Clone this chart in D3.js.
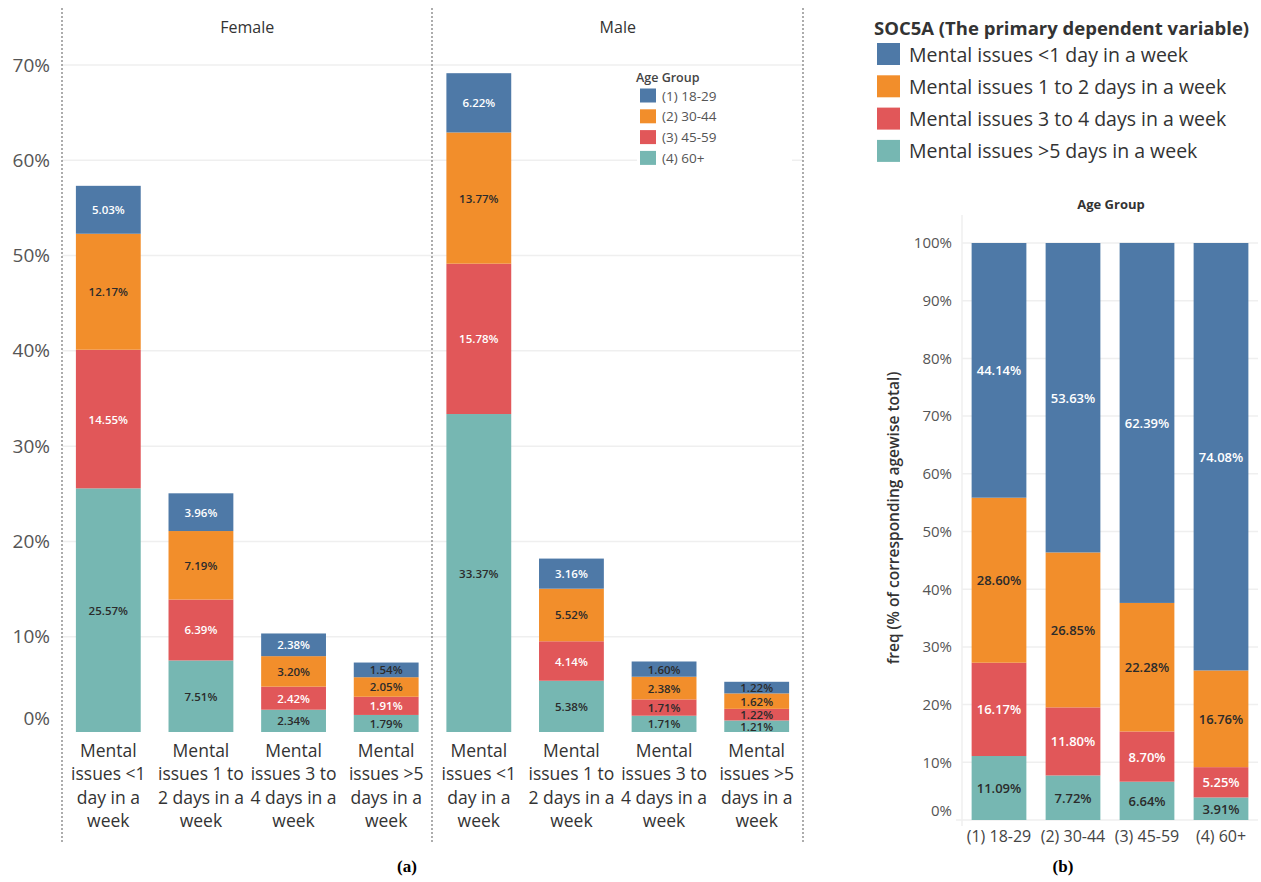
<!DOCTYPE html>
<html>
<head>
<meta charset="utf-8">
<script src="https://cdn.jsdelivr.net/npm/d3@7"></script>
<style>
  html, body { margin: 0; padding: 0; background: #fff; }
  svg { display: block; font-family: "Open Sans", Lato, sans-serif; }
</style>
</head>
<body>
<svg id="chart" width="1261" height="882"></svg>
<script>
// ---- data -------------------------------------------------------------
const categories = [
  "Mental issues <1 day in a week",
  "Mental issues 1 to 2 days in a week",
  "Mental issues 3 to 4 days in a week",
  "Mental issues >5 days in a week"
];
const categoryLines = [
  ["Mental", "issues <1", "day in a", "week"],
  ["Mental", "issues 1 to", "2 days in a", "week"],
  ["Mental", "issues 3 to", "4 days in a", "week"],
  ["Mental", "issues >5", "days in a", "week"]
];
const ageGroups = ["(1) 18-29", "(2) 30-44", "(3) 45-59", "(4) 60+"];
const genders = ["Female", "Male"];

// share of all respondents, by age group, per category
const female18_29 = [5.03, 3.96, 2.38, 1.54];
const female30_44 = [12.17, 7.19, 3.20, 2.05];
const female45_59 = [14.55, 6.39, 2.42, 1.91];
const female60p   = [25.57, 7.51, 2.34, 1.79];
const male18_29 = [6.22, 3.16, 1.60, 1.22];
const male30_44 = [13.77, 5.52, 2.38, 1.62];
const male45_59 = [15.78, 4.14, 1.71, 1.22];
const male60p   = [33.37, 5.38, 1.71, 1.21];

// share within each age group, per category
const lessThan1Day = [44.14, 53.63, 62.39, 74.08];
const oneToTwoDays = [28.60, 26.85, 22.28, 16.76];
const threeToFour  = [16.17, 11.80, 8.70, 5.25];
const moreThan5    = [11.09, 7.72, 6.64, 3.91];

const leftTicks = [0, 10, 20, 30, 40, 50, 60, 70];
const rightTicks = [0, 10, 20, 30, 40, 50, 60, 70, 80, 90, 100];

const palette = ["#4E79A7", "#F28E2B", "#E15759", "#76B7B2"];
const lightText = [true, false, true, false];

const svg = d3.select("#chart");
const gridColor = "#efefef";
const axisText = "#555";
const darkLabel = "#2b2b2b";

// ---- panel (a): stacked bars by gender -------------------------------
const panelData = {
  Female: [female18_29, female30_44, female45_59, female60p],
  Male: [male18_29, male30_44, male45_59, male60p]
};

const genderX = d3.scaleBand().domain(genders).range([62, 803]);
const yA = d3.scaleLinear().domain([0, 70]).range([732, 65]);

const a = svg.append("g");

// gridlines
a.append("g").selectAll("line")
  .data(leftTicks.filter(t => t > 0))
  .join("line")
  .attr("x1", 62).attr("x2", 803)
  .attr("y1", d => yA(d)).attr("y2", d => yA(d))
  .attr("stroke", gridColor).attr("stroke-width", 1.5);

// y axis labels
const yAxisA = a.append("g")
  .attr("transform", "translate(50,0)")
  .call(d3.axisLeft(yA).tickValues(leftTicks).tickSize(0).tickPadding(0)
    .tickFormat(d => d + "%"));
yAxisA.select(".domain").remove();
yAxisA.selectAll("text")
  .attr("fill", axisText)
  .style("font-size", "19px")
  .style("font-family", "'Open Sans', sans-serif")
  .attr("dy", d => d === 0 ? "-0.4em" : "0.32em");

genders.forEach(g => {
  const gx = genderX(g);
  const x = d3.scaleBand().domain(categories)
    .range([gx, gx + genderX.bandwidth()]).paddingInner(0.3).paddingOuter(0.15);

  const rows = categories.map((c, ci) => {
    const r = { category: c };
    ageGroups.forEach((ag, ai) => { r[ag] = panelData[g][ai][ci]; });
    return r;
  });
  // oldest group at the bottom of each stack
  const stack = d3.stack().keys(ageGroups.slice().reverse())(rows);

  const pg = a.append("g");
  pg.append("text")
    .attr("x", gx + genderX.bandwidth() / 2).attr("y", 27)
    .attr("text-anchor", "middle").attr("dominant-baseline", "central")
    .attr("fill", "#333").style("font-size", "16px")
    .text(g);

  stack.forEach(layer => {
    const ai = ageGroups.indexOf(layer.key);
    const lg = pg.append("g");
    lg.selectAll("rect").data(layer).join("rect")
      .attr("x", d => x(d.data.category))
      .attr("width", x.bandwidth())
      .attr("y", d => yA(d[1]))
      .attr("height", d => yA(d[0]) - yA(d[1]))
      .attr("fill", palette[ai]);
    lg.selectAll("text").data(layer).join("text")
      .attr("x", d => x(d.data.category) + x.bandwidth() / 2)
      .attr("y", d => (yA(d[0]) + yA(d[1])) / 2)
      .attr("text-anchor", "middle").attr("dominant-baseline", "central")
      .style("font-size", "11.5px").style("font-weight", "600")
      .attr("fill", d => (lightText[ai] && (yA(d[0]) - yA(d[1])) >= 17) ? "#fff" : darkLabel)
      .text(d => (d[1] - d[0]).toFixed(2) + "%");
  });

  // multi-line category labels
  const lab = pg.append("g");
  categories.forEach((c, ci) => {
    const t = lab.append("text")
      .attr("x", x(c) + x.bandwidth() / 2)
      .attr("text-anchor", "middle")
      .attr("fill", "#333").style("font-size", "17.5px");
    categoryLines[ci].forEach((line, li) => {
      t.append("tspan").attr("x", x(c) + x.bandwidth() / 2)
        .attr("y", 757 + li * 23.3).text(line);
    });
  });
});

// dotted panel separators
a.append("g").selectAll("line")
  .data([62, 432, 803]).join("line")
  .attr("x1", d => d).attr("x2", d => d)
  .attr("y1", 8).attr("y2", 842)
  .attr("stroke", "#8a8a8a").attr("stroke-width", 1.4)
  .attr("stroke-dasharray", "2,2");

// age group legend inside the Male panel
const legA = a.append("g").attr("transform", "translate(637,66)");
legA.append("rect").attr("width", 155).attr("height", 99).attr("fill", "#fff");
legA.append("text").attr("x", -1).attr("y", 11)
  .attr("dominant-baseline", "central")
  .attr("fill", "#444").style("font-size", "12.5px").style("font-weight", "600")
  .text("Age Group");
ageGroups.forEach((ag, i) => {
  const row = legA.append("g").attr("transform", `translate(3,${29.5 + i * 20.8})`);
  row.append("rect").attr("x", 0).attr("y", -7).attr("width", 16).attr("height", 14)
    .attr("fill", palette[i]);
  row.append("text").attr("x", 22).attr("y", 0)
    .attr("dominant-baseline", "central")
    .attr("fill", "#555").style("font-size", "13.5px")
    .text(ag);
});

svg.append("text")
  .attr("x", 407).attr("y", 872)
  .attr("text-anchor", "middle")
  .style("font-family", "'Liberation Serif', serif")
  .style("font-size", "17px").style("font-weight", "bold")
  .text("(a)");

// ---- panel (b): 100% stacked bars by age group -----------------------
const b = svg.append("g");
const categoryShares = [lessThan1Day, oneToTwoDays, threeToFour, moreThan5];

const xB = d3.scaleBand().domain(ageGroups).range([962, 1258])
  .paddingInner(0.26).paddingOuter(0.13);
const yB = d3.scaleLinear().domain([0, 100]).range([820, 243]);

b.append("g").selectAll("line")
  .data(rightTicks).join("line")
  .attr("x1", d => d === 0 ? 956 : 962).attr("x2", 1258)
  .attr("y1", d => yB(d)).attr("y2", d => yB(d))
  .attr("stroke", gridColor).attr("stroke-width", 1.5);
b.append("line")
  .attr("x1", 962).attr("x2", 962).attr("y1", 215).attr("y2", 826)
  .attr("stroke", gridColor).attr("stroke-width", 1.5);

const yAxisB = b.append("g")
  .attr("transform", "translate(952,0)")
  .call(d3.axisLeft(yB).tickValues(rightTicks).tickSize(0).tickPadding(0)
    .tickFormat(d => d + "%"));
yAxisB.select(".domain").remove();
yAxisB.selectAll("text")
  .attr("fill", axisText)
  .style("font-size", "15px")
  .style("font-family", "'Open Sans', sans-serif")
  .attr("dy", d => d === 0 ? "-0.33em" : "0.32em");

const rowsB = ageGroups.map((ag, ai) => {
  const r = { age: ag };
  categories.forEach((c, ci) => { r[c] = categoryShares[ci][ai]; });
  return r;
});
const stackB = d3.stack().keys(categories.slice().reverse())(rowsB);

stackB.forEach(layer => {
  const ci = categories.indexOf(layer.key);
  const lg = b.append("g");
  lg.selectAll("rect").data(layer).join("rect")
    .attr("x", d => xB(d.data.age))
    .attr("width", xB.bandwidth())
    .attr("y", d => yB(d[1]))
    .attr("height", d => yB(d[0]) - yB(d[1]))
    .attr("fill", palette[ci]);
  lg.selectAll("text").data(layer).join("text")
    .attr("x", d => xB(d.data.age) + xB.bandwidth() / 2)
    .attr("y", d => (yB(d[0]) + yB(d[1])) / 2)
    .attr("text-anchor", "middle").attr("dominant-baseline", "central")
    .style("font-size", "13px").style("font-weight", "600")
    .attr("fill", lightText[ci] ? "#fff" : darkLabel)
    .text(d => d.data[layer.key].toFixed(2) + "%");
});

b.append("g").selectAll("text")
  .data(ageGroups).join("text")
  .attr("x", d => xB(d) + xB.bandwidth() / 2)
  .attr("y", 836)
  .attr("text-anchor", "middle").attr("dominant-baseline", "central")
  .attr("fill", "#444").style("font-size", "16px")
  .text(d => d);

b.append("text")
  .attr("x", 1111).attr("y", 204)
  .attr("text-anchor", "middle").attr("dominant-baseline", "central")
  .attr("fill", "#333").style("font-size", "13px").style("font-weight", "bold")
  .text("Age Group");

b.append("text")
  .attr("transform", "translate(893,518) rotate(-90)")
  .attr("text-anchor", "middle").attr("dominant-baseline", "central")
  .attr("fill", "#333").style("font-size", "15.5px").style("font-weight", "600")
  .text("freq (% of corresponding agewise total)");

// category legend
const legB = b.append("g").attr("transform", "translate(876,0)");
legB.append("text").attr("x", -2).attr("y", 27)
  .attr("dominant-baseline", "central")
  .attr("fill", "#333").style("font-size", "18.5px").style("font-weight", "bold")
  .text("SOC5A (The primary dependent variable)");
categories.forEach((c, i) => {
  const cy = 54 + i * 32.3;
  legB.append("rect").attr("x", 1).attr("y", cy - 11).attr("width", 23).attr("height", 22)
    .attr("fill", palette[i]);
  legB.append("text").attr("x", 33).attr("y", cy)
    .attr("dominant-baseline", "central")
    .attr("fill", "#333").style("font-size", "19.5px")
    .text(c);
});

svg.append("text")
  .attr("x", 1063).attr("y", 872)
  .attr("text-anchor", "middle")
  .style("font-family", "'Liberation Serif', serif")
  .style("font-size", "17px").style("font-weight", "bold")
  .text("(b)");
</script>
</body>
</html>
